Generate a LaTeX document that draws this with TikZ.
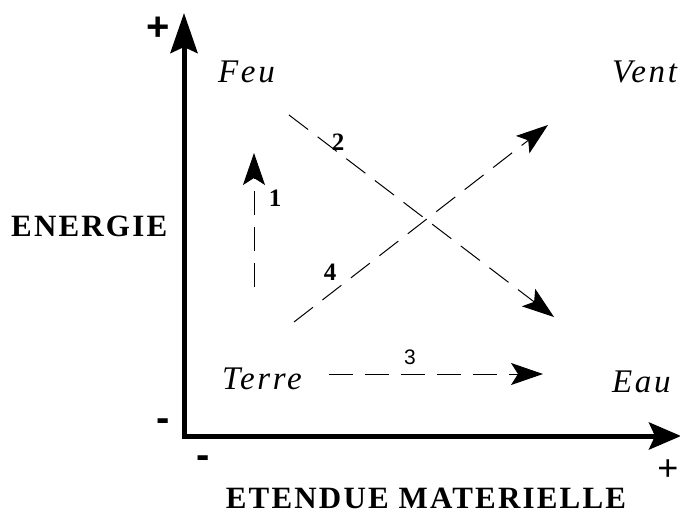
\documentclass[tikz,border=0pt]{standalone}
\usepackage{fontspec}
\setmainfont{Liberation Serif}
\newfontfamily\arialf{Liberation Sans}
\newfontfamily\titlef{Liberation Serif}[LetterSpace=7]
\newfontfamily\wordf{Liberation Serif}[LetterSpace=8]
\usetikzlibrary{arrows.meta}
\tikzset{
  axisline/.style={line width=5pt},
  flowarrow/.style={line width=1pt, dash pattern=on 24pt off 12pt,
    -{Stealth[length=32pt,width=22pt,inset=7pt]}},
  element/.style={font=\fontsize{33}{36}\wordf\itshape, inner sep=0pt, anchor=base west},
  axistitle/.style={font=\fontsize{31}{33}\titlef\bfseries, inner sep=0pt},
  numlbl/.style={font=\fontsize{25}{27}\bfseries, inner sep=0pt, anchor=center},
  signbold/.style={font=\fontsize{40}{42}\arialf\bfseries, inner sep=0pt, anchor=base},
  signthin/.style={font=\fontsize{36}{38}\arialf, inner sep=0pt, anchor=base}
}
\begin{document}
\begin{tikzpicture}[x=1pt,y=-1pt]
\useasboundingbox (0,0) rectangle (680,516);
% axes
\coordinate (o) at (184,436);
\coordinate (oh) at (182,436);
\coordinate (ytip) at (184,13);
\coordinate (xtip) at (681,436);
\draw[axisline,-{Stealth[length=40pt,width=27pt,inset=6pt]}] (o) -- (ytip);
\draw[axisline,-{Stealth[length=32pt,width=27pt,inset=6pt]}] (oh) -- (xtip);
% signs
\node[signbold] (yplus) at (158,41) {+};
\node[signbold] (yminus) at (163,431) {-};
\node[signbold] (xminus) at (203,468) {-};
\node[signthin] (xplus) at (668,480) {+};
% axis titles
\node[axistitle, anchor=base west] (energie) at (11,236) {ENERGIE};
\node[axistitle, anchor=base] (etendue) at (426,508) {ETENDUE MATERIELLE};
% elements
\node[element] (feu) at (218,83) {Feu};
\node[element] (vent) at (612,83) {Vent};
\node[element] (terre) at (222,389) {Terre};
\node[element] (eau) at (612,392) {Eau};
% flows
\coordinate (a1s) at (254,287); \coordinate (a1e) at (254,153);
\coordinate (a2s) at (289,115); \coordinate (a2e) at (554,317);
\coordinate (a4s) at (294,322); \coordinate (a4e) at (548,125);
\coordinate (a3s) at (329,374); \coordinate (a3e) at (543,374);
\draw[flowarrow] (a1s) -- (a1e);
\draw[flowarrow] (a2s) -- (a2e);
\draw[flowarrow] (a4s) -- (a4e);
\draw[flowarrow] (a3s) -- (a3e);
\node[numlbl] (n1) at (275,198) {1};
\node[numlbl] (n2) at (338,142) {2};
\node[numlbl] (n4) at (330,272) {4};
\node[font=\fontsize{21}{23}\arialf, inner sep=0pt] (n3) at (410,357) {3};
\end{tikzpicture}
\end{document}
